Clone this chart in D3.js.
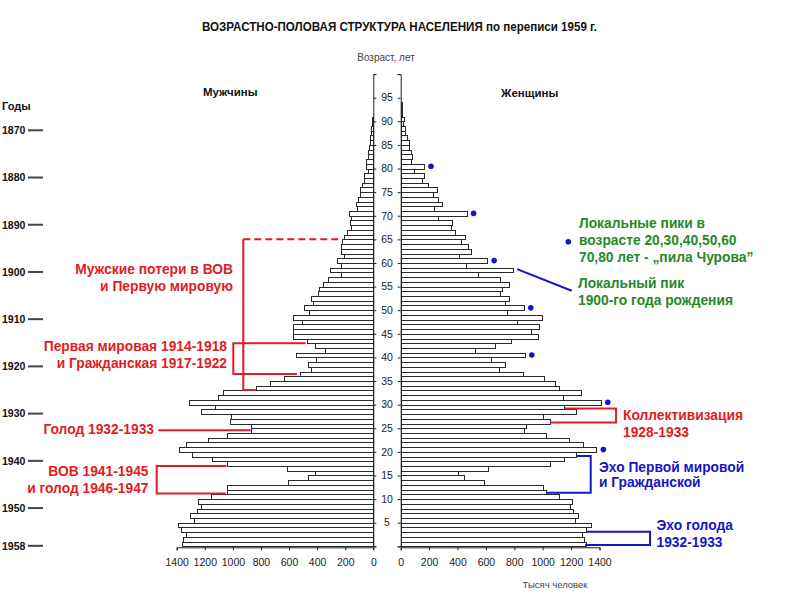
<!DOCTYPE html>
<html>
<head>
<meta charset="utf-8">
<script src="https://cdn.jsdelivr.net/npm/d3@7"></script>
<style>
  body { margin: 0; background: #fff; }
  svg text { font-family: "Liberation Sans", Arial, sans-serif; }
</style>
</head>
<body>
<svg id="chart" width="800" height="607"></svg>
<script>
// Возрастно-половая пирамида, перепись 1959 г. (тыс. человек по годам возраста)

const ages = d3.range(0, 100);

const male = [
  1364, 1353, 1336, 1367, 1393, 1274, 1305, 1258, 1229, 1248,
  1158, 1044, 1044, 610, 467, 413, 617, 1039, 1151, 1289,
  1383, 1336, 1175, 1039, 873, 873, 1020, 1013, 1229, 1127,
  1312, 1103, 1073, 838, 736, 636, 522, 443, 465, 410,
  550, 346, 415, 475, 569, 574, 574, 510, 574, 460,
  496, 432, 443, 391, 384, 361, 320, 233, 311, 233,
  261, 209, 233, 228, 221, 209, 185, 161, 166, 157,
  176, 119, 123, 109, 95, 95, 81, 66, 64, 35,
  55, 50, 40, 36, 28, 25, 22, 18, 14, 10,
  6, 4, 3, 2, 2, 1, 1, 1, 0, 0
];

const female = [
  1303, 1292, 1277, 1303, 1338, 1226, 1249, 1214, 1191, 1205,
  1116, 1020, 1003, 588, 448, 403, 614, 1052, 1153, 1231,
  1378, 1287, 1184, 1020, 867, 879, 1048, 1003, 1235, 1151,
  1409, 1144, 1268, 1116, 1088, 1010, 860, 694, 731, 633,
  874, 523, 666, 776, 968, 919, 977, 820, 996, 748,
  867, 734, 766, 701, 715, 762, 701, 546, 792, 459,
  609, 413, 497, 471, 427, 450, 384, 352, 363, 260,
  464, 237, 288, 260, 230, 253, 190, 152, 166, 96,
  164, 73, 77, 75, 61, 59, 42, 33, 30, 19,
  23, 10, 8, 6, 5, 4, 3, 2, 1, 1
];

const peakAges = [20, 30, 40, 50, 60, 70, 80];
const ageTicks = d3.range(0, 101, 5);
const ageLabels = d3.range(5, 100, 5);
const valueTicks = d3.range(0, 1401, 200);
const yearTicks = [1870, 1880, 1890, 1900, 1910, 1920, 1930, 1940, 1950, 1958];

const RED = '#e31b23';
const BLUE = '#1515c8';
const GREEN = '#1f8a26';
const NOTE_SIZE = 13.8;

const svg = d3.select('#chart');

const yAge = d3.scaleLinear().domain([0, 100]).range([546.3, 74.1]);
const xL = d3.scaleLinear().domain([0, 1400]).range([373.3, 176.7]);
const xR = d3.scaleLinear().domain([0, 1400]).range([400.7, 599.5]);
const yYear = year => yAge(1958.1 - year);

const snap = v => Math.round(v) + 0.5;

// заголовки
svg.append('text')
  .attr('x', 202).attr('y', 31)
  .attr('textLength', 395).attr('lengthAdjust', 'spacingAndGlyphs')
  .attr('font-size', 12.5).attr('font-weight', 'bold').attr('fill', '#111')
  .text('ВОЗРАСТНО-ПОЛОВАЯ СТРУКТУРА НАСЕЛЕНИЯ по переписи 1959 г.');

svg.append('text')
  .attr('x', 386).attr('y', 61).attr('text-anchor', 'middle')
  .attr('font-size', 10).attr('fill', '#444')
  .text('Возраст, лет');

svg.append('text').attr('x', 203).attr('y', 96)
  .attr('font-size', 11.5).attr('font-weight', 'bold').attr('fill', '#111').text('Мужчины');
svg.append('text').attr('x', 501).attr('y', 97)
  .attr('font-size', 11.5).attr('font-weight', 'bold').attr('fill', '#111').text('Женщины');

// шкала годов рождения
svg.append('text').attr('x', 2).attr('y', 110)
  .attr('font-size', 11).attr('font-weight', 'bold').attr('fill', '#111').text('Годы');

const years = svg.append('g');
years.selectAll('text').data(yearTicks).join('text')
  .attr('x', 2).attr('y', d => yYear(d)).attr('dy', '0.36em')
  .attr('font-size', 10.5).attr('font-weight', 'bold').attr('fill', '#111')
  .text(d => d);
years.selectAll('line').data(yearTicks).join('line')
  .attr('x1', 28).attr('x2', 43)
  .attr('y1', d => yYear(d)).attr('y2', d => yYear(d))
  .attr('stroke', '#444').attr('stroke-width', 2);

// столбики
const bars = svg.append('g');
bars.selectAll('.m').data(ages).join('rect')
  .attr('class', 'm')
  .attr('x', a => snap(xL(male[a])))
  .attr('y', a => snap(yAge(a + 1)))
  .attr('width', a => Math.round(xL(0)) - Math.round(xL(male[a])))
  .attr('height', a => Math.round(yAge(a)) - Math.round(yAge(a + 1)))
  .attr('fill', '#fff').attr('stroke', '#2a2a2a').attr('stroke-width', 1);

bars.selectAll('.f').data(ages).join('rect')
  .attr('class', 'f')
  .attr('x', a => snap(xR(0)))
  .attr('y', a => snap(yAge(a + 1)))
  .attr('width', a => Math.round(xR(female[a])) - Math.round(xR(0)))
  .attr('height', a => Math.round(yAge(a)) - Math.round(yAge(a + 1)))
  .attr('fill', '#fff').attr('stroke', '#2a2a2a').attr('stroke-width', 1);

// оси
const axL = svg.append('g').attr('transform', `translate(${xL(0)},0)`)
  .call(d3.axisRight(yAge).tickValues(ageTicks).tickSize(3).tickFormat(''));
const axR = svg.append('g').attr('transform', `translate(${xR(0)},0)`)
  .call(d3.axisLeft(yAge).tickValues(ageTicks).tickSize(3).tickFormat(''));

svg.append('g').selectAll('text').data(ageLabels).join('text')
  .attr('x', (xL(0) + xR(0)) / 2).attr('y', d => yAge(d)).attr('dy', '0.36em')
  .attr('text-anchor', 'middle').attr('font-size', 10.5).attr('fill', '#222')
  .text(d => d);

const bxL = svg.append('g').attr('transform', `translate(0,${yAge(0) + 1})`)
  .call(d3.axisBottom(xL).tickValues(valueTicks).tickSize(3).tickPadding(8).tickFormat(d3.format('d')));
const bxR = svg.append('g').attr('transform', `translate(0,${yAge(0) + 1})`)
  .call(d3.axisBottom(xR).tickValues(valueTicks).tickSize(3).tickPadding(8).tickFormat(d3.format('d')));

[axL, axR, bxL, bxR].forEach(ax => {
  ax.selectAll('path, line').attr('stroke', '#222');
  ax.selectAll('text').attr('font-size', 10.5).attr('fill', '#222')
    .attr('font-family', '"Liberation Sans", Arial, sans-serif');
});

svg.append('text')
  .attr('x', 555).attr('y', 588).attr('text-anchor', 'middle')
  .attr('font-size', 9.5).attr('fill', '#444')
  .text('Тысяч человек');

// пики «пилы»
svg.append('g').selectAll('circle').data(peakAges).join('circle')
  .attr('cx', a => xR(female[a]) + 7)
  .attr('cy', a => yAge(a + 0.5))
  .attr('r', 2.8).attr('fill', BLUE);

// аннотации
const line = d3.line();
function stroke(points, color, dash) {
  svg.append('path')
    .attr('d', line(points))
    .attr('fill', 'none').attr('stroke', color).attr('stroke-width', 2)
    .attr('stroke-dasharray', dash || null);
}
function label(lines, x, y, color, anchor, step) {
  const t = svg.append('text')
    .attr('x', x).attr('y', y).attr('text-anchor', anchor)
    .attr('font-size', NOTE_SIZE).attr('font-weight', 'bold').attr('fill', color);
  lines.forEach((s, i) => {
    t.append('tspan').attr('x', x).attr('dy', i ? step : 0).text(s);
  });
}

// потери мужчин
stroke([[243.3, yAge(65)], [xL(male[65]) - 2, yAge(65)]], RED, '7,4');
stroke([[243.3, yAge(65)], [243.3, yAge(33.1)], [xL(male[33]), yAge(33.1)]], RED);
label(['Мужские потери в ВОВ', 'и Первую мировую'], 233, 274, RED, 'end', 17);

stroke([[xL(male[43]) - 1, yAge(43)], [233.3, yAge(43)], [233.3, yAge(36.5)], [xL(male[36]) - 3, yAge(36.5)]], RED);
label(['Первая мировая 1914-1918', 'и Гражданская 1917-1922'], 227, 351, RED, 'end', 17);

stroke([[158.3, yAge(24.6)], [xL(male[24]), yAge(24.6)]], RED);
label(['Голод 1932-1933'], 154, 434, RED, 'end', 17);

stroke([[xL(male[17]) - 1, yAge(17)], [156.7, yAge(17)], [156.7, yAge(11.2)], [xL(male[11]) - 1, yAge(11.2)]], RED);
label(['ВОВ 1941-1945', 'и голод 1946-1947'], 148.5, 476, RED, 'end', 17);

// женская сторона
stroke([[xR(female[29]) + 1, yAge(29.2)], [616, yAge(29.2)], [616, yAge(26.2)], [xR(female[26]) + 1, yAge(26.2)]], RED);
label(['Коллективизация', '1928-1933'], 623, 419.5, RED, 'start', 17);

stroke([[xR(female[19]) + 1, yAge(19.1)], [590.7, yAge(19.1)], [590.7, yAge(11.35)], [xR(female[11]) + 1, yAge(11.35)]], BLUE);
label(['Эхо Первой мировой', 'и Гражданской'], 599, 472, BLUE, 'start', 15);

stroke([[xR(female[3]) + 1, yAge(3.1)], [650, yAge(3.1)], [650, yAge(0.3)], [xR(female[1]) + 1, yAge(0.3)]], BLUE);
label(['Эхо голода', '1932-1933'], 656.5, 530, BLUE, 'start', 17);

// легенда
svg.append('circle').attr('cx', 568.3).attr('cy', 241.7).attr('r', 2.8).attr('fill', BLUE);
label(['Локальные пики в', 'возрасте 20,30,40,50,60', '70,80 лет - „пила Чурова”'], 579, 227.5, GREEN, 'start', 17);

stroke([[xR(female[58]) + 4, yAge(58.5) - 1], [571.7, 290.7]], BLUE);
label(['Локальный пик', '1900-го года рождения'], 578, 287.5, GREEN, 'start', 17);
</script>
</body>
</html>
